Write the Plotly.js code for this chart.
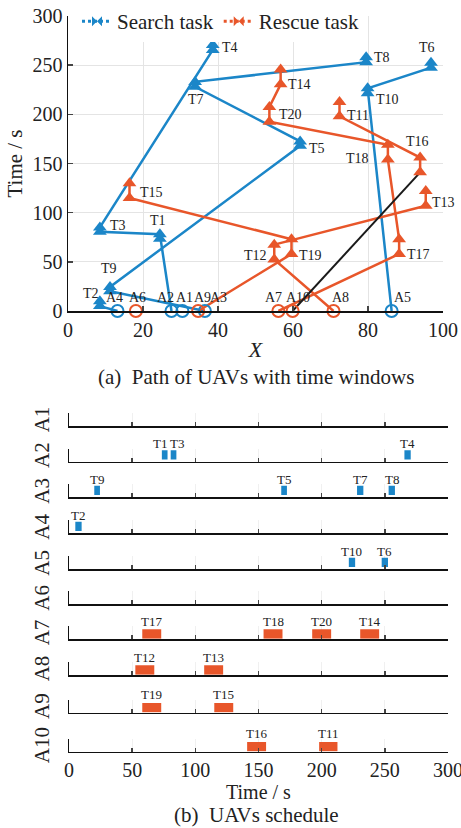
<!DOCTYPE html>
<html><head><meta charset="utf-8">
<script src="https://cdn.plot.ly/plotly-3.0.1.min.js"></script>
<style>html,body{margin:0;padding:0;background:#fff}#chart{width:461px;height:828px}</style>
</head><body><div id="chart"></div>
<script>
// ---------------- DATA ----------------
const taskNames = ['T1','T2','T3','T4','T5','T6','T7','T8','T9','T10','T11','T12','T13','T14','T15','T16','T17','T18','T19','T20'];
const taskX     = [24.5, 8.5, 8.5, 38.6, 61.9, 96.8, 33.9, 79.5, 11.2, 79.9, 72.4, 55.0, 95.4, 56.7, 16.4, 93.9, 88.3, 85.3, 59.6, 53.7];
const taskStart = [73.5, 5, 80.5, 265.5, 168, 247.5, 228, 253, 20, 221.5, 198, 52.5, 107, 230.5, 115, 141, 58, 154, 58, 192.5];
const taskEnd   = [78, 10, 85, 270.5, 172.5, 252.5, 233, 258, 24.5, 226.5, 212.5, 67.5, 122, 245.5, 130, 156, 73, 169, 73, 207.5];
const taskKind  = ['search','search','search','search','search','search','search','search','search','search',
                   'rescue','rescue','rescue','rescue','rescue','rescue','rescue','rescue','rescue','rescue'];
const uavNames  = ['A1','A2','A3','A4','A5','A6','A7','A8','A9','A10'];
const uavX      = [30.5, 27.6, 36.5, 13.2, 86.3, 18.1, 56.1, 70.8, 34.7, 59.9];
const uavKind   = ['search','search','search','search','search','rescue','rescue','rescue','rescue','rescue'];
const uavRoutes = [[], ['T1','T3','T4'], ['T9','T5','T7','T8'], ['T2'], ['T10','T6'], [],
                   ['T17','T18','T20','T14'], ['T12','T13'], ['T19','T15'], ['T16','T11']];
const legendNames = ['Search task', 'Rescue task'];
const xTicksTop = [0,20,40,60,80,100];
const yTicksTop = [0,50,100,150,200,250,300];
const timeTicks = [0,50,100,150,200,250,300];
const captionA = '(a)  Path of UAVs with time windows';
const captionB = '(b)  UAVs schedule';
const timeTitle = 'Time / s';

// ---------------- STYLE ----------------
const FONT = '"Liberation Serif", "Times New Roman", Times, serif';
const TXT = '#222';
const COLOR = {search:'#1b86c8', rescue:'#e8562a'};
const firstLegColor = {A10:'#1a1a1a'};
// label offsets [dx, up] in px relative to task start point
const taskLabelOff = {T1:[-2,18],T2:[-9,13],T3:[18,6],T4:[17,2],T5:[17,-3],T6:[-4,20],T7:[1,-13],T8:[16,5],
  T9:[-1,23],T10:[20,-6],T11:[18,1],T12:[-19,4],T13:[18,3],T14:[19,0],T15:[22,5],T16:[-3,31],T17:[19,-1],
  T18:[-30,1],T19:[19,-2],T20:[21,7]};
const depotLabelDx = {A1:2,A2:-6,A3:14,A4:-3,A5:11,A6:2,A7:-5,A8:7,A9:4,A10:5};
const schedLabelDx = {T1:-5, T3:3};
const rowBase = [426, 461.7, 497.3, 533.3, 569.3, 604.3, 639, 675, 712.7, 751.7];
const ROWH = 13, W = 461, H = 828;
const barYc = {search:0.53, rescue:0.39};

// ---------------- BUILD ----------------
const idx = n => taskNames.indexOf(n);
const traces = [];
// legend entries
legendNames.forEach((nm, k) => {
  const c = k === 0 ? COLOR.search : COLOR.rescue;
  traces.push({x:[null], y:[null], name:nm, mode:'lines+markers', xaxis:'x', yaxis:'y',
    line:{color:c, width:3, dash:'dot'}, marker:{symbol:'bowtie', size:10, color:c}, showlegend:true});
});
// routes
uavRoutes.forEach((route, i) => {
  if (!route.length) return;
  const col = COLOR[uavKind[i]];
  let xs = [uavX[i]], ys = [0];
  route.forEach(t => { const j = idx(t); xs.push(taskX[j], taskX[j]); ys.push(taskStart[j], taskEnd[j]); });
  const fc = firstLegColor[uavNames[i]];
  if (fc) {
    traces.push({x:xs.slice(0,2), y:ys.slice(0,2), mode:'lines', line:{color:fc, width:2}, showlegend:false, cliponaxis:false});
    xs = xs.slice(1); ys = ys.slice(1);
  }
  traces.push({x:xs, y:ys, mode:'lines', line:{color:col, width:2.5}, showlegend:false, cliponaxis:false});
});
// task markers (start and end)
['search','rescue'].forEach(kind => {
  const xs = [], ys = [];
  taskNames.forEach((n, j) => { if (taskKind[j] === kind) { xs.push(taskX[j], taskX[j]); ys.push(taskStart[j], taskEnd[j]); } });
  traces.push({x:xs, y:ys, mode:'markers', marker:{symbol:'triangle-up', size:12, color:COLOR[kind]}, showlegend:false, cliponaxis:false});
});
// depots
traces.push({x:uavX, y:uavX.map(() => 0), mode:'markers', showlegend:false, cliponaxis:false,
  marker:{symbol:'circle-open', size:12, line:{width:2, color:uavKind.map(k => COLOR[k])}, color:uavKind.map(k => COLOR[k])}});

const annotations = [];
taskNames.forEach((n, j) => {
  const o = taskLabelOff[n];
  annotations.push({x:taskX[j], y:taskStart[j], xref:'x', yref:'y', text:n, showarrow:false,
    xshift:o[0], yshift:o[1], font:{family:FONT, size:14, color:TXT}});
});
uavNames.forEach((n, i) => {
  annotations.push({x:uavX[i], y:0, xref:'x', yref:'y', text:n, showarrow:false,
    xshift:depotLabelDx[n], yshift:14, font:{family:FONT, size:14, color:TXT}});
});
annotations.push({x:256/W, y:(H-377)/H, xref:'paper', yref:'paper', xanchor:'center', yanchor:'middle',
  text:captionA, showarrow:false, font:{family:FONT, size:21, color:TXT}});
annotations.push({x:258/W, y:(H-792)/H, xref:'paper', yref:'paper', xanchor:'center', yanchor:'middle',
  text:timeTitle, showarrow:false, font:{family:FONT, size:20, color:TXT}});
annotations.push({x:256/W, y:(H-815)/H, xref:'paper', yref:'paper', xanchor:'center', yanchor:'middle',
  text:captionB, showarrow:false, font:{family:FONT, size:21, color:TXT}});

const layout = {
  width:W, height:H, margin:{l:0,r:0,t:0,b:0}, paper_bgcolor:'#fff', plot_bgcolor:'rgba(0,0,0,0)',
  font:{family:FONT, color:TXT}, barmode:'overlay', hovermode:false,
  showlegend:true,
  legend:{orientation:'h', x:77/W, y:(H-1)/H, xanchor:'left', yanchor:'top', bgcolor:'#fff',
    font:{family:FONT, size:21, color:TXT}, itemwidth:30},
  xaxis:{domain:[68/W, 443/W], range:[0,100], tickvals:xTicksTop, ticks:'inside', ticklen:5, tickwidth:1.5,
    showline:true, linecolor:'#111', linewidth:1.5, showgrid:true, gridcolor:'#e4e4e4', zeroline:false,
    tickfont:{family:FONT, size:20}, automargin:false, anchor:'y', ticklabeloverflow:'allow',
    title:{text:'<i>X</i>', font:{family:FONT, size:22}, standoff:2}},
  yaxis:{domain:[(H-311)/H, (H-16)/H], range:[0,300], tickvals:yTicksTop, ticks:'inside', ticklen:5, tickwidth:1.5,
    showline:true, linecolor:'#111', linewidth:1.5, showgrid:true, gridcolor:'#e4e4e4', zeroline:false,
    tickfont:{family:FONT, size:20}, automargin:false, anchor:'x', ticklabeloverflow:'allow',
    title:{text:timeTitle, font:{family:FONT, size:21}, standoff:4}},
  annotations
};

// schedule rows
uavNames.forEach((u, i) => {
  const n = i + 2, xa = 'xaxis' + n, ya = 'yaxis' + n;
  const b = rowBase[i];
  const last = i === uavNames.length - 1;
  layout[xa] = {domain:[69/W, 448/W], range:[0,300], tickvals:timeTicks, ticks:'inside', ticklen:4, tickwidth:1.5,
    showline:true, linecolor:'#111', linewidth:1.5, showgrid:true, gridcolor:'#f0f0f0', zeroline:false,
    showticklabels:last, tickfont:{family:FONT, size:20}, anchor:'y'+n, automargin:false, ticklabeloverflow:'allow'};
  layout[ya] = {domain:[(H-b)/H, (H-b+ROWH)/H], range:[0,1], showline:true, linecolor:'#111', linewidth:1.5,
    ticks:'', showticklabels:false, showgrid:false, zeroline:false, anchor:'x'+n, automargin:false,
    title:{text:u, font:{family:FONT, size:21}, standoff:12}};
  const route = uavRoutes[i];
  // placeholder so that empty rows still draw their axes
  traces.push({type:'scatter', mode:'markers', xaxis:'x'+n, yaxis:'y'+n, x:[null], y:[null], showlegend:false});
  if (!route.length) return;
  const js = route.map(idx);
  traces.push({type:'bar', orientation:'h', xaxis:'x'+n, yaxis:'y'+n, showlegend:false,
    base:js.map(j => taskStart[j]), x:js.map(j => taskEnd[j] - taskStart[j]),
    y:js.map(j => barYc[taskKind[j]]), width:js.map(() => 0.72),
    marker:{color:js.map(j => COLOR[taskKind[j]]), line:{width:0}}});
  js.forEach((j, k) => {
    annotations.push({x:(taskStart[j] + taskEnd[j]) / 2, y:1, xref:'x'+n, yref:'y'+n, text:route[k],
      showarrow:false, xanchor:'center', yanchor:'middle', yshift:5, xshift:schedLabelDx[route[k]] || 0,
      font:{family:FONT, size:13, color:TXT}});
  });
});

Plotly.newPlot('chart', traces, layout, {staticPlot:true, displayModeBar:false});
</script></body></html>
